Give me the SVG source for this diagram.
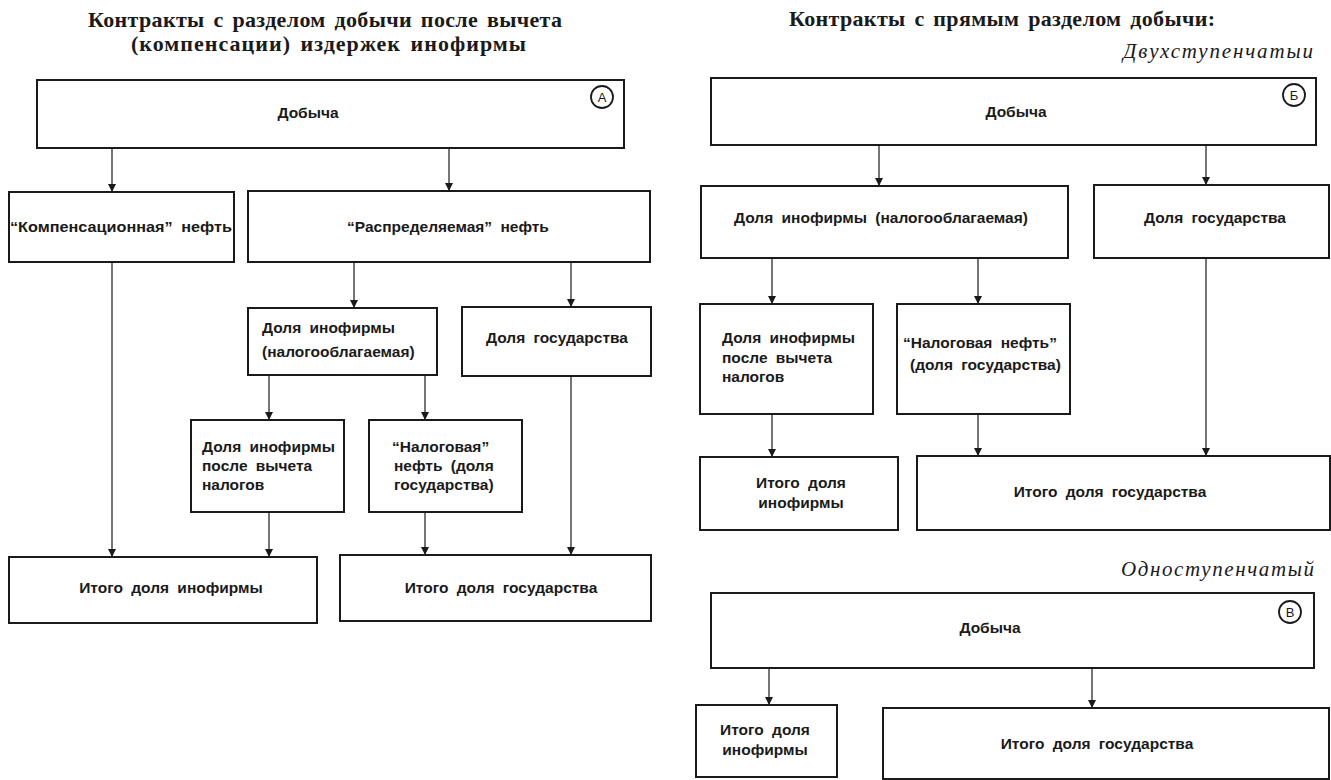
<svg xmlns="http://www.w3.org/2000/svg" width="1331" height="780" viewBox="0 0 1331 780">
<style>
.bg{fill:#fff}
.box{fill:#fff;stroke:#1a1a1a;stroke-width:2}
.t{font-family:"Liberation Sans",Arial,sans-serif;font-weight:bold;font-size:15.5px;fill:#1a1a1a;word-spacing:4px}
.c{text-anchor:middle}
.title{font-family:"Liberation Serif","Times New Roman",serif;font-weight:bold;font-size:22px;fill:#1a1a1a;word-spacing:3px}
.sub{font-family:"Liberation Serif","Times New Roman",serif;font-style:italic;font-size:21px;fill:#1a1a1a}
.conn line{stroke:#1a1a1a;stroke-width:1.2;marker-end:url(#ah)}
.tag{fill:#fff;stroke:#1a1a1a;stroke-width:1.8}
.tagt{font-family:"Liberation Sans",Arial,sans-serif;font-size:13px;fill:#1a1a1a;text-anchor:middle}
</style>
<defs>
<marker id="ah" markerUnits="userSpaceOnUse" markerWidth="8" markerHeight="10" refX="8" refY="4" orient="auto">
<path d="M0,0 L8,4 L0,8 z" fill="#1a1a1a"/>
</marker>
</defs>
<rect class="bg" x="0" y="0" width="1331" height="780"/>

<g id="titles">
<text class="title" x="88" y="27" textLength="474" lengthAdjust="spacing">Контракты с разделом добычи после вычета</text>
<text class="title" x="131" y="51" textLength="395" lengthAdjust="spacing">(компенсации) издержек инофирмы</text>
<text class="title" x="789" y="26" textLength="426" lengthAdjust="spacing">Контракты с прямым разделом добычи:</text>
<text class="sub" x="1123" y="58" textLength="190" lengthAdjust="spacing">Двухступенчатыи</text>
<text class="sub" x="1121" y="576" textLength="193" lengthAdjust="spacing">Одноступенчатый</text>
</g>

<g id="connectors" class="conn">
<line x1="112" y1="148" x2="112" y2="192"/>
<line x1="449" y1="148" x2="449" y2="191"/>
<line x1="354" y1="262" x2="354" y2="308"/>
<line x1="571" y1="262" x2="571" y2="307"/>
<line x1="269" y1="375" x2="269" y2="420"/>
<line x1="425" y1="375" x2="425" y2="420"/>
<line x1="112" y1="262" x2="112" y2="557"/>
<line x1="269" y1="512" x2="269" y2="557"/>
<line x1="425" y1="512" x2="425" y2="555"/>
<line x1="571" y1="376" x2="571" y2="555"/>

<line x1="879" y1="145" x2="879" y2="186"/>
<line x1="1206" y1="145" x2="1206" y2="185"/>
<line x1="772" y1="258" x2="772" y2="304"/>
<line x1="978" y1="258" x2="978" y2="304"/>
<line x1="1206" y1="258" x2="1206" y2="456"/>
<line x1="772" y1="414" x2="772" y2="457"/>
<line x1="978" y1="414" x2="978" y2="456"/>

<line x1="769" y1="667" x2="769" y2="705"/>
<line x1="1092" y1="668" x2="1092" y2="708"/>
</g>

<g id="a-dobycha">
<rect class="box" x="37" y="80" width="587" height="68"/>
<text class="t c" x="308" y="118">Добыча</text>
<circle class="tag" cx="602" cy="97" r="11"/>
<text class="tagt" x="602" y="102">A</text>
</g>
<g id="a-komp">
<rect class="box" x="9" y="192" width="225" height="70"/>
<text class="t" x="10" y="232" textLength="222" lengthAdjust="spacingAndGlyphs">“Компенсационная” нефть</text>
</g>
<g id="a-raspr">
<rect class="box" x="248" y="191" width="402" height="71"/>
<text class="t c" x="448" y="232">“Распределяемая” нефть</text>
</g>
<g id="a-dolya-ino">
<rect class="box" x="248" y="308" width="189" height="67"/>
<text class="t" x="262" y="333">Доля инофирмы</text>
<text class="t" x="262" y="357">(налогооблагаемая)</text>
</g>
<g id="a-dolya-gos">
<rect class="box" x="462" y="307" width="189" height="69"/>
<text class="t c" x="557" y="343">Доля государства</text>
</g>
<g id="a-posle">
<rect class="box" x="191" y="420" width="153" height="92"/>
<text class="t" x="202" y="452">Доля инофирмы</text>
<text class="t" x="202" y="471">после вычета</text>
<text class="t" x="202" y="490">налогов</text>
</g>
<g id="a-nalog">
<rect class="box" x="369" y="420" width="153" height="92"/>
<text class="t" x="392" y="452">“Налоговая”</text>
<text class="t" x="394" y="471">нефть (доля</text>
<text class="t" x="394" y="490">государства)</text>
</g>
<g id="a-itogo-ino">
<rect class="box" x="9" y="557" width="308" height="66"/>
<text class="t c" x="171" y="593">Итого доля инофирмы</text>
</g>
<g id="a-itogo-gos">
<rect class="box" x="340" y="555" width="311" height="66"/>
<text class="t c" x="501" y="593">Итого доля государства</text>
</g>

<g id="b-dobycha">
<rect class="box" x="711" y="78" width="605" height="67"/>
<text class="t c" x="1016" y="117">Добыча</text>
<circle class="tag" cx="1294" cy="95" r="11"/>
<text class="tagt" x="1294" y="100">Б</text>
</g>
<g id="b-dolya-ino">
<rect class="box" x="701" y="186" width="367" height="72"/>
<text class="t c" x="881" y="223">Доля инофирмы (налогооблагаемая)</text>
</g>
<g id="b-dolya-gos">
<rect class="box" x="1094" y="185" width="235" height="73"/>
<text class="t c" x="1215" y="223">Доля государства</text>
</g>
<g id="b-posle">
<rect class="box" x="700" y="304" width="173" height="110"/>
<text class="t" x="722" y="343">Доля инофирмы</text>
<text class="t" x="722" y="363">после вычета</text>
<text class="t" x="722" y="382">налогов</text>
</g>
<g id="b-nalog">
<rect class="box" x="897" y="304" width="173" height="110"/>
<text class="t" x="903" y="348">“Налоговая нефть”</text>
<text class="t" x="910" y="370">(доля государства)</text>
</g>
<g id="b-itogo-ino">
<rect class="box" x="700" y="457" width="198" height="73"/>
<text class="t c" x="801" y="488">Итого доля</text>
<text class="t c" x="801" y="508">инофирмы</text>
</g>
<g id="b-itogo-gos">
<rect class="box" x="917" y="456" width="413" height="74"/>
<text class="t c" x="1110" y="497">Итого доля государства</text>
</g>

<g id="v-dobycha">
<rect class="box" x="711" y="593" width="603" height="75"/>
<text class="t c" x="990" y="633">Добыча</text>
<circle class="tag" cx="1290" cy="612" r="11"/>
<text class="tagt" x="1290" y="617">В</text>
</g>
<g id="v-itogo-ino">
<rect class="box" x="696" y="705" width="141" height="72"/>
<text class="t c" x="765" y="735">Итого доля</text>
<text class="t c" x="765" y="755">инофирмы</text>
</g>
<g id="v-itogo-gos">
<rect class="box" x="883" y="708" width="446" height="71"/>
<text class="t c" x="1097" y="749">Итого доля государства</text>
</g>
</svg>
